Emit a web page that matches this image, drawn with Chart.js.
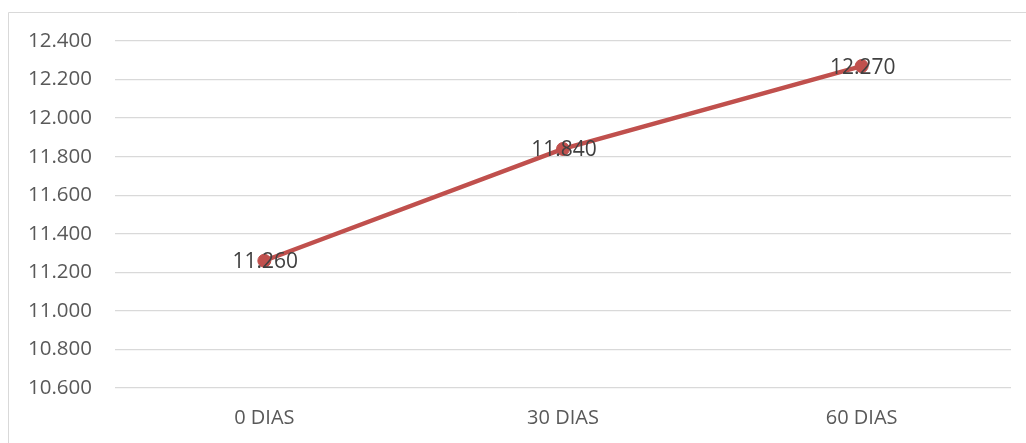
<!DOCTYPE html>
<html>
<head>
<meta charset="utf-8">
<script src="https://cdn.jsdelivr.net/npm/chart.js@4/dist/chart.umd.min.js"></script>
<style>
  html, body { margin: 0; padding: 0; background: #ffffff; }
  #wrap { position: relative; width: 1026px; height: 443px; }
</style>
</head>
<body>
<div id="wrap"><canvas id="c" width="1026" height="443"></canvas></div>
<script>
const categories = ["0 DIAS", "30 DIAS", "60 DIAS"];
const values = [11260, 11840, 12270];
const yMin = 10600;
const yMax = 12400;
const yStep = 200;

function fmt(v) {
  return String(Math.round(v)).replace(/\B(?=(\d{3})+(?!\d))/g, ".");
}

const FONT = "'Open Sans', 'Liberation Sans', sans-serif";

const framePlugin = {
  id: "frame",
  beforeDraw(chart) {
    const ctx = chart.ctx;
    ctx.save();
    ctx.strokeStyle = "#d9d9d9";
    ctx.lineWidth = 1;
    ctx.beginPath();
    ctx.moveTo(8.5, 443);
    ctx.lineTo(8.5, 12.5);
    ctx.lineTo(1026, 12.5);
    ctx.stroke();
    ctx.restore();
  }
};

const labelPlugin = {
  id: "pointLabels",
  afterDatasetsDraw(chart) {
    const ctx = chart.ctx;
    const meta = chart.getDatasetMeta(0);
    ctx.save();
    ctx.font = "21px " + FONT;
    ctx.fillStyle = "#404040";
    ctx.textAlign = "center";
    ctx.textBaseline = "middle";
    meta.data.forEach((pt, i) => {
      ctx.fillText(fmt(chart.data.datasets[0].data[i]), pt.x + 1, pt.y + 1.5);
    });
    ctx.restore();
  }
};

new Chart(document.getElementById("c"), {
  type: "line",
  data: {
    labels: categories,
    datasets: [{
      data: values,
      borderColor: "#c0504d",
      backgroundColor: "#c0504d",
      borderWidth: 4.5,
      pointRadius: 6.5,
      pointBackgroundColor: "#c0504d",
      pointBorderColor: "#c0504d",
      pointBorderWidth: 1,
      tension: 0,
      fill: false
    }]
  },
  options: {
    responsive: false,
    animation: false,
    devicePixelRatio: 1,
    layout: { padding: { left: 0, right: 15, top: 41, bottom: 0 } },
    plugins: {
      legend: { display: false },
      tooltip: { enabled: false }
    },
    scales: {
      x: {
        offset: true,
        grid: { display: false, drawTicks: false },
        border: { display: false },
        ticks: {
          color: "#595959",
          font: { family: FONT, size: 20 },
          padding: 18,
          maxRotation: 0
        },
        afterFit(scale) { scale.height = 55; }
      },
      y: {
        min: yMin,
        max: yMax,
        grid: { color: "#d9d9d9", lineWidth: 1.3, drawTicks: false },
        border: { display: false },
        ticks: {
          stepSize: yStep,
          color: "#595959",
          font: { family: FONT, size: 20.5 },
          padding: 23,
          callback: (v) => fmt(v)
        },
        afterFit(scale) { scale.width = 115; }
      }
    }
  },
  plugins: [framePlugin, labelPlugin]
});
</script>
</body>
</html>
